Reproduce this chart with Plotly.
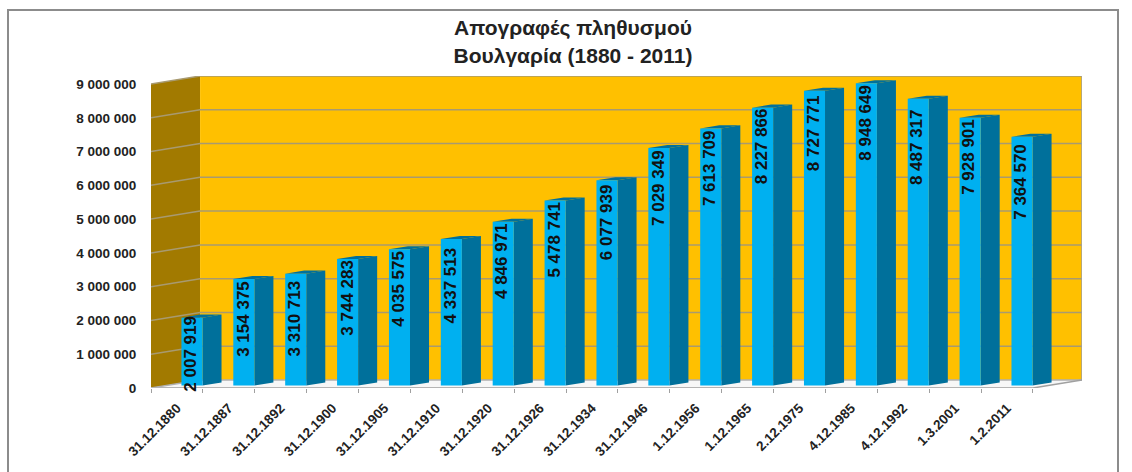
import plotly.graph_objects as go

dates = ["31.12.1880","31.12.1887","31.12.1892","31.12.1900","31.12.1905","31.12.1910","31.12.1920","31.12.1926","31.12.1934","31.12.1946","1.12.1956","1.12.1965","2.12.1975","4.12.1985","4.12.1992","1.3.2001","1.2.2011"]
population = [2007919,3154375,3310713,3744283,4035575,4337513,4846971,5478741,6077939,7029349,7613709,8227866,8727771,8948649,8487317,7928901,7364570]
y_ticks = [0,1000000,2000000,3000000,4000000,5000000,6000000,7000000,8000000,9000000]
label_drop = [-3,1,6,0,0,7,0,0,3,1,1,0,3,0,9,0,6]

FONT = "Liberation Sans"
DX = 0.946      # oblique depth, in category units
DY = 237000     # oblique depth, in value units
BAR_L, BAR_R = 0.297, 0.703
Z0, Z1 = 0.306, 0.694
N = len(dates)

def fmt(v):
    return f"{v:,}".replace(",", " ")

fig = go.Figure()

def poly(xs, ys, color):
    fig.add_trace(go.Scatter(x=xs, y=ys, mode="lines", fill="toself", fillcolor=color,
                             line=dict(width=0), hoverinfo="skip", showlegend=False, cliponaxis=False))

def line(xs, ys, color="#A09A80", width=1.5):
    fig.add_trace(go.Scatter(x=xs, y=ys, mode="lines", line=dict(color=color, width=width),
                             hoverinfo="skip", showlegend=False, cliponaxis=False))

top = y_ticks[-1]
poly([0, DX, DX, 0, 0], [0, DY, top+DY, top, 0], "#A27A00")
poly([DX, N+DX, N+DX, DX, DX], [DY, DY, top+DY, top+DY, DY], "#FFC000")
poly([0, DX, N+DX, N, 0], [0, DY, DY, 0, 0], "#F7F7F7")
for t in y_ticks:
    line([0, DX, N+DX+0.07], [t, t+DY, t+DY], "#A89A70" if t else "#B0B0B0")
line([N+DX, N+DX, N], [top+DY, DY, 0], "#A0A0A0")
line([0, N], [0, 0], "#B4B4B4", 2)

for i, v in enumerate(population):
    l, r = i+BAR_L, i+BAR_R
    ax0, ay0 = DX*Z0, DY*Z0
    ax1, ay1 = DX*Z1, DY*Z1
    poly([r+ax0, r+ax1, r+ax1, r+ax0, r+ax0], [ay0, ay1, v+ay1, v+ay0, ay0], "#00709B")
    poly([l+ax0, r+ax0, r+ax1, l+ax1, l+ax0], [v+ay0, v+ay0, v+ay1, v+ay1, v+ay0], "#00709B")
    poly([l+ax0, r+ax0, r+ax0, l+ax0, l+ax0], [ay0, ay0, v+ay0, v+ay0, ay0], "#00B0F0")

annotations = []
for i, v in enumerate(population):
    annotations.append(dict(x=i+0.5+DX*Z0, y=v+DY*Z0, xref="x", yref="y", text=f"<b>{fmt(v)}</b>", textangle=-90,
                            showarrow=False, xanchor="center", yanchor="top", yshift=-label_drop[i], xshift=-1,
                            borderpad=0, font=dict(family=FONT, size=17, color="#111111")))

fig.update_layout(
    width=1132, height=472, autosize=False,
    margin=dict(l=151, r=50, t=76, b=84, autoexpand=False),
    paper_bgcolor="white", plot_bgcolor="white", showlegend=False,
    title=dict(text="<b>Απογραφές πληθυσμού<br>Βουλγαρία (1880 - 2011)</b>", x=573/1132, xanchor="center",
               y=0.925, yanchor="top", font=dict(family=FONT, size=21, color="#222222")),
    xaxis=dict(range=[0, N+DX], showgrid=False, zeroline=False, showline=False, automargin=False,
               tickvals=[i+0.5 for i in range(N)], ticktext=[f"<b>{d}</b>" for d in dates], tickangle=-45,
               ticks="outside", ticklen=6, tickcolor="rgba(0,0,0,0)",
               tickfont=dict(family=FONT, size=13.5, color="#222222"),
               minor=dict(tickvals=list(range(N+1)), ticks="outside", ticklen=4, tickcolor="#A0A0A0", showgrid=False)),
    yaxis=dict(range=[0, top+DY], showgrid=False, zeroline=False, showline=False, automargin=False,
               tickvals=y_ticks, ticktext=[f"<b>{fmt(t)}</b>" for t in y_ticks],
               ticks="outside", ticklen=11, tickcolor="rgba(0,0,0,0)",
               tickfont=dict(family=FONT, size=13.5, color="#222222")),
    annotations=annotations,
    shapes=[dict(type="rect", xref="paper", yref="paper", layer="below",
                 x0=(8-151)/931, x1=(1118-151)/931, y0=(388-482)/312, y1=(388-10)/312,
                 line=dict(color="#8C8C8C", width=2), fillcolor="white")],
)
fig.write_html("out.html", config=dict(displayModeBar=False), post_script="document.body.style.margin='0';")
